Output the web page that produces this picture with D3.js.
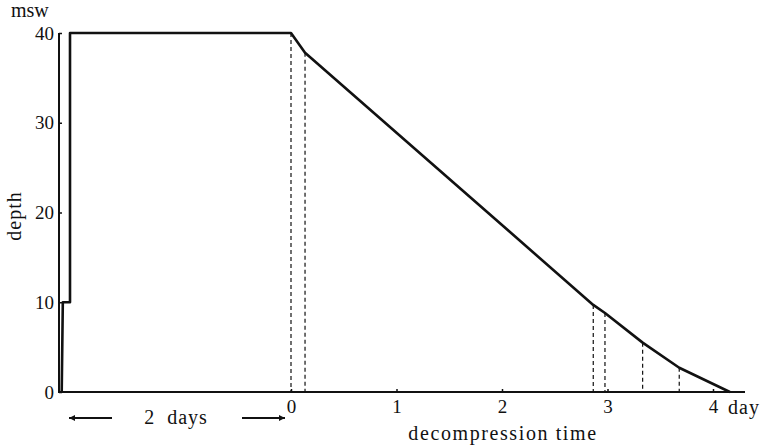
<!DOCTYPE html>
<html>
<head>
<meta charset="utf-8">
<script src="https://cdn.jsdelivr.net/npm/d3@7"></script>
<style>
  body { margin: 0; background: #fff; }
  svg text { font-family: "Liberation Serif", "DejaVu Serif", serif; fill: #111; }
</style>
</head>
<body>
<div id="chart"></div>
<script>
// pressurisation phase (days before decompression starts), drawn on its own compressed scale
var preTime = [-2.075, -2.065, -2.0, -2.0, 0];
var preDepth = [0, 10, 10, 40, 40];

// decompression phase (days)
var decoTime = [0, 0.133, 2.865, 2.976, 3.333, 3.68, 4.16];
var decoDepth = [40, 37.8, 9.7, 8.8, 5.5, 2.7, 0];
// points that get a dashed drop line
var markTime = [0, 0.133, 2.865, 2.976, 3.333, 3.68];

var yTicks = [0, 10, 20, 30, 40];
var xTicks = [0, 1, 2, 3, 4];

var svgWidth = 764;
var svgHeight = 446;

var svg = d3.select("#chart")
  .append("svg")
  .attr("width", svgWidth)
  .attr("height", svgHeight);

var y = d3.scaleLinear().domain([0, 40]).range([392, 33]);
var x = d3.scaleLinear().domain([0, 4]).range([291, 713]);
var xPre = d3.scaleLinear().domain([-2, 0]).range([70, 291]);

var stroke = "#111";

// axis lines
svg.append("line")
  .attr("x1", 59).attr("x2", 59)
  .attr("y1", y(40)).attr("y2", y(0) + 1)
  .attr("stroke", stroke).attr("stroke-width", 2);
svg.append("line")
  .attr("x1", 59).attr("x2", 745)
  .attr("y1", y(0)).attr("y2", y(0))
  .attr("stroke", stroke).attr("stroke-width", 2);

// y axis ticks + labels
var yAxis = svg.append("g")
  .attr("transform", "translate(59,0)")
  .call(d3.axisLeft(y).tickValues(yTicks).tickFormat(d3.format("d"))
    .tickSizeInner(-3).tickSizeOuter(0).tickPadding(5));
yAxis.select(".domain").remove();
yAxis.selectAll("line").attr("stroke", stroke).attr("stroke-width", 1.5);
yAxis.selectAll("text")
  .style("font-family", "Liberation Serif")
  .style("font-size", "19px")
  .attr("fill", "#111");

// x axis ticks + labels
var xAxis = svg.append("g")
  .attr("transform", "translate(0," + y(0) + ")")
  .call(d3.axisBottom(x).tickValues(xTicks).tickFormat(d3.format("d"))
    .tickSizeInner(-3).tickSizeOuter(0).tickPadding(8));
xAxis.select(".domain").remove();
xAxis.selectAll("line").attr("stroke", stroke).attr("stroke-width", 1.5);
xAxis.selectAll("text")
  .style("font-family", "Liberation Serif")
  .style("font-size", "19px")
  .attr("fill", "#111");

// dashed drop lines
svg.selectAll(".drop")
  .data(markTime)
  .enter()
  .append("line")
  .attr("class", "drop")
  .attr("x1", function(d) { return x(d); })
  .attr("x2", function(d) { return x(d); })
  .attr("y1", function(d) { return y(decoDepth[decoTime.indexOf(d)]); })
  .attr("y2", y(0))
  .attr("stroke", stroke)
  .attr("stroke-width", 1.2)
  .attr("stroke-dasharray", "4,3");

// profile
var prePts = preTime.map(function(t, i) { return [xPre(t), y(preDepth[i])]; });
var decoPts = decoTime.map(function(t, i) { return [x(t), y(decoDepth[i])]; });

svg.append("path")
  .attr("d", d3.line()(prePts.concat(decoPts.slice(1))))
  .attr("fill", "none")
  .attr("stroke", stroke)
  .attr("stroke-width", 2.6)
  .attr("stroke-linejoin", "round");

// labels
svg.append("text")
  .attr("x", 11).attr("y", 17)
  .style("font-size", "20px")
  .text("msw");

svg.append("text")
  .attr("transform", "translate(21,216) rotate(-90)")
  .attr("text-anchor", "middle")
  .style("font-size", "20px")
  .style("letter-spacing", "1px")
  .text("depth");

svg.append("text")
  .attr("x", 728).attr("y", 414)
  .style("font-size", "20px")
  .style("letter-spacing", "1px")
  .text("day");

svg.append("text")
  .attr("x", 503).attr("y", 440)
  .attr("text-anchor", "middle")
  .style("font-size", "20px")
  .style("letter-spacing", "1.6px")
  .style("white-space", "pre")
  .text("decompression time");

svg.append("text")
  .attr("x", 176).attr("y", 424)
  .attr("text-anchor", "middle")
  .style("font-size", "20px")
  .style("letter-spacing", "1px")
  .style("white-space", "pre")
  .text("2  days");

// arrows for the 2 days span
var defs = svg.append("defs");
defs.append("marker")
  .attr("id", "head")
  .attr("viewBox", "0 0 10 10")
  .attr("refX", 10).attr("refY", 5)
  .attr("markerWidth", 12).attr("markerHeight", 6)
  .attr("markerUnits", "userSpaceOnUse")
  .attr("orient", "auto")
  .append("path")
  .attr("d", "M0,0 L10,5 L0,10 Z")
  .attr("fill", stroke);

svg.append("line")
  .attr("x1", 112).attr("x2", 69)
  .attr("y1", 418).attr("y2", 418)
  .attr("stroke", stroke).attr("stroke-width", 1.8)
  .attr("marker-end", "url(#head)");
svg.append("line")
  .attr("x1", 242).attr("x2", 285)
  .attr("y1", 418).attr("y2", 418)
  .attr("stroke", stroke).attr("stroke-width", 1.8)
  .attr("marker-end", "url(#head)");
</script>
</body>
</html>
